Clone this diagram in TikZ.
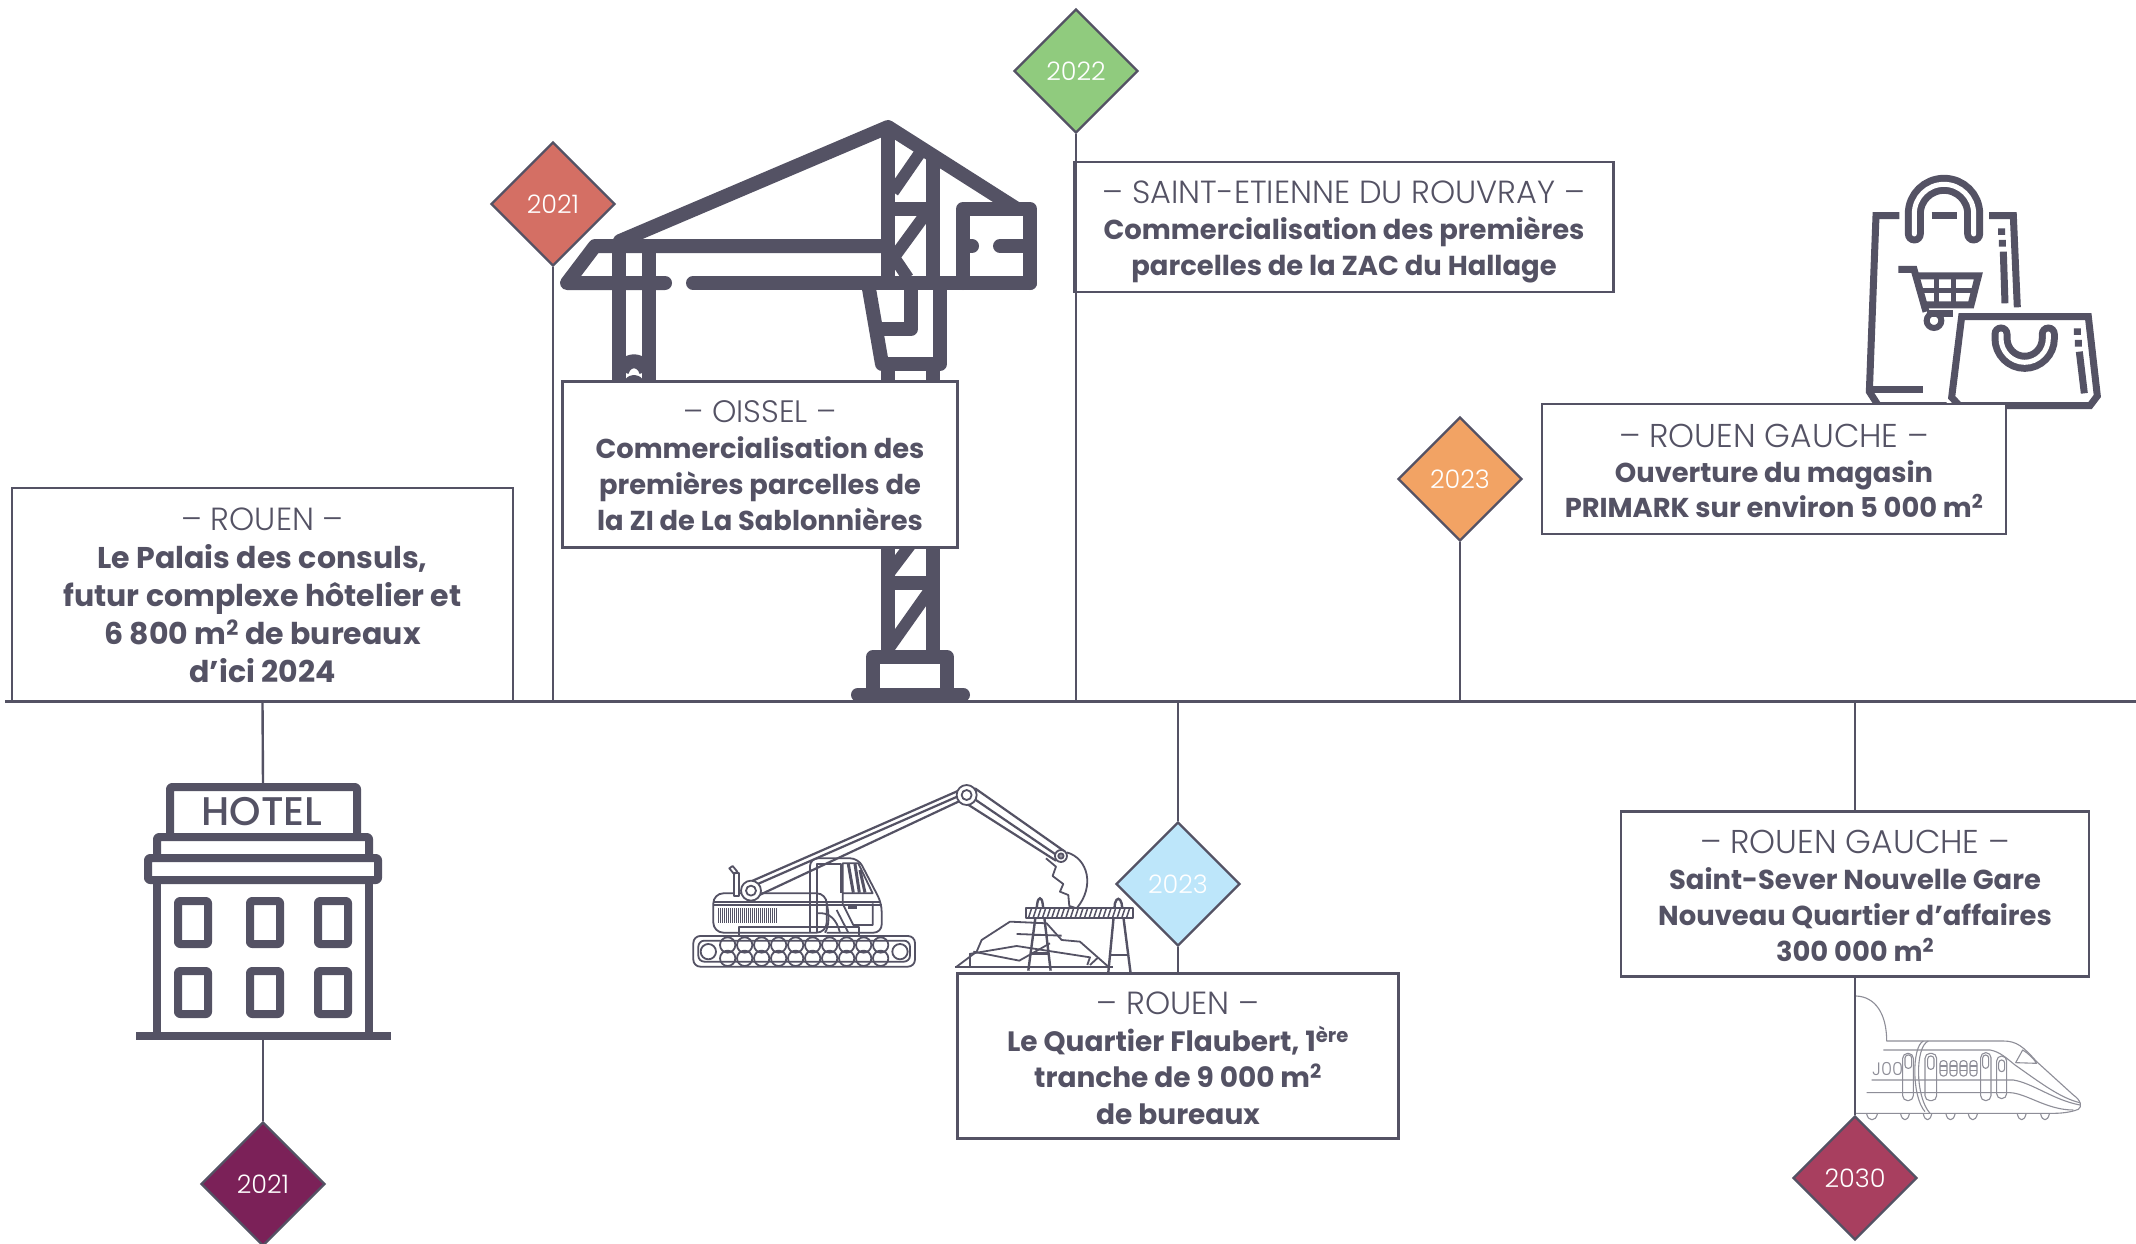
\documentclass[tikz,border=0pt]{standalone}
\usepackage{fontspec}
\usetikzlibrary{shapes.geometric}
\setmainfont{Poppins}
\newfontfamily\lightfont{Poppins Light}
\newfontfamily\midfont{Poppins Medium}
\definecolor{ink}{HTML}{545264}
\definecolor{trainc}{HTML}{8E8E98}
\definecolor{cRed}{HTML}{D46F64}
\definecolor{cGreen}{HTML}{90CB7E}
\definecolor{cOrange}{HTML}{F2A364}
\definecolor{cPurple}{HTML}{7B2158}
\definecolor{cBlue}{HTML}{BDE6FA}
\definecolor{cRasp}{HTML}{A83F5F}
\tikzset{
  datebox/.style={diamond,aspect=1,draw=ink,line width=2.4pt,minimum width=124pt,minimum height=124pt,inner sep=0pt,text=white,font=\lightfont\fontsize{25.5}{30}\selectfont},
  infobox/.style n args={2}{draw=ink,line width=2.4pt,fill=white,inner sep=0pt,align=center,text=ink,font=\bfseries\fontsize{#1}{#2}\selectfont},
  link/.style={draw=ink,line width=2.4pt},
  crane/.style={draw=ink,line width=14pt,line cap=round,line join=round},
  bagline/.style={draw=ink,line width=7pt,line join=miter},
  hotelline/.style={draw=ink,line width=8pt,line join=round},
  thin/.style={draw=ink,line width=1.8pt,line join=round},
  trainline/.style={draw=trainc,line width=1.1pt,line join=round}
}
\newcommand{\topst}{\rule[-0.22\baselineskip]{0pt}{\baselineskip}}
\newcommand{\pad}[1]{\rule{0pt}{\dimexpr0.78\baselineskip+#1pt\relax}}
\newcommand{\head}[3][32]{{\fontsize{#1}{\baselineskip}\lightfont\mdseries\topst\pad{#2}– #3 –}}
\begin{document}
\begin{tikzpicture}[x=1pt,y=-1pt]
\clip (0,0) rectangle (2136,1244);
\fill[white] (0,0) rectangle (2136,1244);
% axis
\coordinate (axL) at (5,701.5);
\coordinate (axR) at (2136,701.5);
\coordinate (hotelTop) at (263,783);
\coordinate (hotelFoot) at (263,1036);
% crane
\begin{scope}
\path[crane] (619,246) -- (619,390) (649,246) -- (649,390);
\path[crane,line cap=butt] (622,371) .. controls (626,358) and (642,358) .. (646,371);
\path[crane,line width=10pt,line cap=butt] (626,392) .. controls (626,376) and (642,376) .. (642,392);
\path[crane] (693,283) -- (1030,283);
\path[crane] (665,283) -- (567,283) -- (595,246) -- (887,246);
\path[crane] (620,241) -- (888,127) -- (1017,209);
\path[crane,line cap=butt] (888,127) -- (888,283) (933,155) -- (933,283);
\path[crane,line cap=butt] (888,209) -- (933,209);
\path[crane,line width=12pt,line cap=butt] (893,192) -- (922,150) (892,260) -- (930,208) (885,244) -- (908,278);
\path[crane] (1000,246) -- (1030,246) -- (1030,283);
\path[crane] (1030,246) -- (1030,209) -- (963,209) -- (963,283);
\path[crane] (963,246) -- (972,246);
\path[crane,line cap=butt] (868,283) -- (882,364);
\path[crane] (882,364) -- (940,364) -- (940,283);
\path[crane] (911,283) -- (911,329) -- (878,329);
\path[crane,line cap=butt] (888,364) -- (888,395) (933,364) -- (933,395);
\path[crane,line cap=butt] (888,540) -- (888,660) (933,540) -- (933,660);
\path[crane,line cap=butt] (888,583) -- (933,583);
\path[crane,line width=12pt,line cap=butt] (889,648) -- (930,590) (889,573) -- (914,540);
\path[crane] (873,694) -- (873,657) -- (947,657) -- (947,694);
\path[crane] (858,694.5) -- (963,694.5);
\end{scope}
% bags
\begin{scope}[shift={(1840,160)},x=0.3333pt,y=-0.3333pt]
\path[bagline] (178,167) -- (108,167) -- (88,695) -- (115,737) -- (320,737);
\path[bagline] (447,167) -- (520,167) -- (532,442);
\path[bagline] (275,167) -- (352,167);
\path[bagline] (100,690) -- (250,690);
\path[bagline] (485,205) -- (485,225) (487,240) -- (487,260) (490,275) -- (495,430);
\path[bagline] (175,328) -- (222,328) -- (258,455);
\path[bagline] (225,348) -- (415,348) -- (393,435) -- (245,435);
\path[bagline,line width=5pt] (235,392) -- (405,392) (290,348) -- (290,435) (340,348) -- (340,435);
\path[bagline] (262,462) -- (338,462);
\draw[ink,line width=6pt] (282,482) circle[radius=22];
\draw[ink,line width=19pt,line cap=round] (223,222) -- (223,161) .. controls (223,112) and (263,73) .. (312,73) .. controls (361,73) and (401,112) .. (401,161) -- (401,222);
\draw[white,line width=5pt,line cap=round] (223,222) -- (223,161) .. controls (223,112) and (263,73) .. (312,73) .. controls (361,73) and (401,112) .. (401,161) -- (401,222);
\path[bagline,fill=white] (365,470) -- (745,470) -- (772,708) -- (750,737) -- (358,737) -- (335,712) -- cycle;
\path[bagline] (712,505) -- (712,525) (715,540) -- (715,560) (718,575) -- (733,700);
\draw[ink,line width=19pt,line cap=round] (483,522) -- (483,535) .. controls (483,575) and (515,607) .. (554,607) .. controls (593,607) and (625,575) .. (625,535) -- (625,522);
\draw[white,line width=5pt,line cap=round] (483,522) -- (483,535) .. controls (483,575) and (515,607) .. (554,607) .. controls (593,607) and (625,575) .. (625,535) -- (625,522);
\end{scope}
% excavator
\begin{scope}[shift={(680,770)},x=0.3333pt,y=-0.3333pt]
\draw[thin,rounded corners=7pt] (40,498) rectangle (705,590);
\draw[thin,rounded corners=6pt] (55,512) rectangle (690,575);
\draw[thin] (85,545) circle[radius=23] (660,545) circle[radius=23];
\foreach \i in {0,...,9}{
  \draw[thin] ({143+51*\i},525) circle[radius=23] ({143+51*\i},565) circle[radius=23];
}
\draw[thin,rounded corners=10pt] (100,488) -- (100,370) -- (440,370) -- (440,488) -- cycle;
\draw[thin] (100,395) -- (600,395) (100,405) -- (605,405);
\draw[thin] (178,470) rectangle (538,498);
\fill[ink] (115,415) rectangle (295,460);
\foreach \i in {0,...,29}{ \draw[white,line width=0.4pt] ({118+6*\i},415) -- ({118+6*\i},460); }
\draw[thin,rounded corners=8pt] (390,488) -- (390,265) -- (535,265) -- (605,400) -- (605,488) -- (440,488);
\draw[thin] (410,488) -- (410,282) -- (482,282) -- (482,370);
\draw[thin] (488,405) -- (488,280) -- (535,280) -- (578,370) -- (488,370);
\draw[thin,line width=3pt] (505,282) -- (520,368) (525,282) -- (538,368) (540,300) -- (555,368);
\draw[thin] (578,400) -- (578,465) -- (520,465) -- (490,405);
\fill[ink] (505,405) rectangle (530,418);
\draw[thin] (410,430) .. controls (450,425) and (470,450) .. (480,488) (470,420) -- (505,488);
\draw[thin] (440,400) .. controls (448,430) and (448,470) .. (435,488);
\draw[thin,fill=white] (162,378) -- (162,310) -- (178,310) -- (178,378) -- cycle;
\draw[thin] (148,295) -- (158,288) -- (172,305) -- (162,312) -- cycle;
\draw[thin,line width=2.2pt] (200,340) -- (845,58) (232,378) -- (850,88) (215,350) -- (850,72);
\draw[thin,fill=white] (213,362) circle[radius=30];
\draw[thin] (213,362) circle[radius=15];
\draw[thin,line width=2.2pt] (885,55) -- (1155,245) (855,98) -- (1128,272) (870,78) -- (1140,262);
\draw[thin,fill=white] (860,75) circle[radius=30];
\draw[thin] (860,75) circle[radius=15];
\draw[thin] (1160,247) .. controls (1225,265) and (1245,350) .. (1190,415);
\draw[thin] (1098,265) -- (1128,290) -- (1118,318) -- (1150,342) -- (1140,365) -- (1165,375) -- (1168,408) -- (1190,415);
\draw[thin,fill=white] (1143,258) circle[radius=18];
\draw[thin,fill=ink!60] (1143,258) circle[radius=8];
\draw[thin] (825,590) -- (1300,590);
\draw[thin] (830,590) -- (890,545) -- (905,510) -- (990,455) -- (1100,460) -- (1145,510) -- (1200,515) -- (1285,590);
\draw[thin] (868,552) -- (1010,528) -- (1230,562) -- (1222,585);
\draw[thin] (880,545) -- (1018,572) -- (1110,520);
\draw[thin] (1010,492) -- (1145,497);
\draw[thin] (870,552) -- (870,590) (1230,585) -- (1255,562);
\draw[ink,line width=2.4pt] (1045,602) -- (1072,400) .. controls (1075,380) and (1085,380) .. (1088,400) -- (1112,602);
\draw[ink,line width=2.4pt] (1060,495) -- (1100,495) (1055,550) -- (1108,550);
\draw[ink,line width=2.4pt] (1285,608) -- (1305,400) .. controls (1310,382) and (1320,382) .. (1325,400) -- (1352,610);
\draw[ink,line width=2.4pt] (1290,555) -- (1345,555);
\draw[thin,fill=white] (1038,415) rectangle (1358,445);
\foreach \i in {0,...,21}{ \draw[ink,line width=1.5pt] ({1045+14*\i},445) -- ({1055+14*\i},415); }
\end{scope}
% train
\begin{scope}[shift={(1840,980)},x=0.3333pt,y=-0.3333pt]
\draw[trainline,fill=white] (48,48) .. controls (105,50) and (140,100) .. (140,183) -- (490,183) .. controls (530,183) and (550,200) .. (590,245) -- (700,345) .. controls (722,360) and (728,380) .. (715,388) .. controls (690,398) and (660,400) .. (640,400) -- (48,400);
\draw[trainline] (130,210) -- (450,210) .. controls (480,215) and (500,235) .. (525,255) .. controls (590,300) and (660,355) .. (720,368);
\draw[trainline] (95,300) -- (520,300) .. controls (580,310) and (640,360) .. (720,375);
\draw[trainline] (80,338) -- (510,338) .. controls (560,340) and (620,390) .. (700,390);
\draw[trainline] (265,183) .. controls (225,200) and (225,350) .. (270,400) (250,183) .. controls (215,200) and (215,350) .. (255,395);
\draw[trainline,rounded corners=5pt] (188,220) rectangle (220,362) (255,220) rectangle (290,362) (422,218) rectangle (453,362) (470,228) rectangle (500,356);
\draw[trainline,rounded corners=3pt] (195,225) rectangle (215,265) (263,228) rectangle (282,268) (428,225) rectangle (446,265) (476,240) rectangle (494,275);
\foreach \i in {0,1,2,3}{\draw[trainline,rounded corners=3pt] ({300+30*\i},242) rectangle ({321+30*\i},288);
 \draw[trainline] ({300+30*\i},258) -- ({321+30*\i},258) ({300+30*\i},272) -- ({321+30*\i},272);}
\draw[trainline] (527,248) -- (548,210) .. controls (565,220) and (580,235) .. (590,250) -- cycle;
\foreach \a/\b in {80/112,182/208,250/275,318/345,385/412,532/558,602/628}{
 \draw[trainline] (\a,402) .. controls (\a+5,425) and (\b-5,425) .. (\b,402);}
\node[text=trainc,font=\lightfont\fontsize{18}{18}\selectfont,inner sep=0pt] (jo) at (143,266) {J00};
\end{scope}
% hotel
\begin{scope}
\path[hotelline,rounded corners=2pt] (170,837) -- (170,787) -- (357,787) -- (357,837);
\path[hotelline,rounded corners=2pt] (157,858) -- (157,837) -- (369,837) -- (369,858);
\path[hotelline,rounded corners=2pt] (148,858) rectangle (378,880);
\path[hotelline] (157,880) -- (157,1033) (369,880) -- (369,1033);
\path[hotelline] (136,1036) -- (391,1036);
\foreach \xx in {178,250,318}{
  \path[hotelline,rounded corners=2pt] (\xx,901) rectangle (\xx+30,944);
  \path[hotelline,rounded corners=2pt] (\xx,971) rectangle (\xx+30,1014);
}
\node[text=ink,font=\midfont\fontsize{40}{40}\selectfont,inner sep=0pt] (hotelsign) at (262,812) {HOTEL};
\end{scope}
% diamonds
\node[datebox,fill=cRed] (d1) at (553,204) {2021};
\node[datebox,fill=cGreen] (d2) at (1076,71) {2022};
\node[datebox,fill=cOrange] (d3) at (1460,479) {2023};
\node[datebox,fill=cPurple] (d4) at (263,1184) {2021};
\node[datebox,fill=cBlue] (d5) at (1178,884) {2023};
\node[datebox,fill=cRasp] (d6) at (1855,1178) {2030};
% boxes
\node[infobox={30}{37.8},minimum width=501pt,minimum height=213.5pt] (b1) at (262.5,595) {\head{2}{ROUEN}\\Le Palais des consuls,\\futur complexe hôtelier et\\6 800 m\textsuperscript{2} de bureaux\\d’ici 2024\topst};
\node[infobox={27.3}{35.9},minimum width=395pt,minimum height=166pt] (b2) at (760,464.5) {\head[31]{4}{OISSEL}\\Commercialisation des\\premières parcelles de\\la ZI de La Sablonnières\topst};
\node[infobox={27.4}{36},minimum width=539pt,minimum height=129.5pt] (b3) at (1344,227) {\head{4}{SAINT-ETIENNE DU ROUVRAY}\\Commercialisation des premières\\parcelles de la ZAC du Hallage\topst};
\node[infobox={27.3}{35},minimum width=464pt,minimum height=129.5pt] (b4) at (1774,469) {\head[33]{8}{ROUEN GAUCHE}\\Ouverture du magasin\\PRIMARK sur environ 5 000 m\textsuperscript{2}\topst};
\node[infobox={28}{36.5},minimum width=441pt,minimum height=165pt] (b5) at (1178,1056) {\head{7}{ROUEN}\\Le Quartier Flaubert, 1\textsuperscript{ère}\\tranche de 9 000 m\textsuperscript{2}\\de bureaux\topst};
\node[infobox={27.4}{36},minimum width=468pt,minimum height=165pt] (b6) at (1855,894) {\head[33]{7}{ROUEN GAUCHE}\\Saint-Sever Nouvelle Gare\\Nouveau Quartier d’affaires\\300 000 m\textsuperscript{2}\topst};
% connectors
\draw[link] (axL) -- (axR);
\draw[link] (d1.south) -- (d1.south |- axL);
\draw[link] (d2.south) -- (d2.south |- axL);
\draw[link] (d3.south) -- (d3.south |- axL);
\draw[link] (b1.south) -- (hotelTop);
\draw[link] (d4.north) -- (hotelFoot);
\draw[link] (d5.north) -- (d5.north |- axL);
\draw[link] (d5.south) -- (b5.north);
\draw[link] (b6.north) -- (b6.north |- axL);
\draw[link] (d6.north) -- (b6.south -| d6.north);
\end{tikzpicture}
\end{document}
